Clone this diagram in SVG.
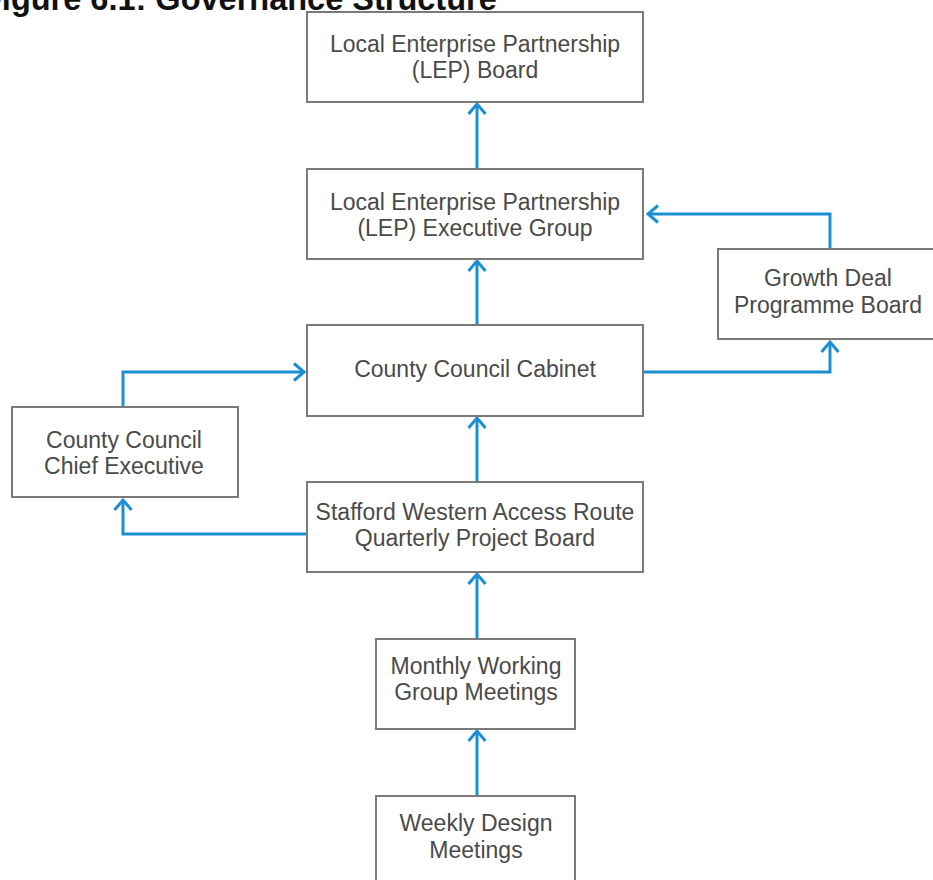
<svg xmlns="http://www.w3.org/2000/svg" width="933" height="880" viewBox="0 0 933 880">
<style>
.box{fill:#ffffff;stroke:#7a7a7a;stroke-width:2}
.t{font-family:"Liberation Sans",Arial,sans-serif;font-size:23px;fill:#4a4a4a;text-anchor:middle}
.c{fill:none;stroke:#1b8fd2;stroke-width:3}
.title{font-family:"Liberation Sans",Arial,sans-serif;font-size:32.5px;font-weight:bold;fill:#111}
</style>
<defs>
<marker id="ah" viewBox="0 0 20 20" refX="14" refY="10" markerWidth="20" markerHeight="20" markerUnits="userSpaceOnUse" orient="auto">
<path d="M4,1.5 L14,10 L4,18.5" fill="none" stroke="#1b8fd2" stroke-width="3"/>
</marker>
</defs>
<rect width="933" height="880" fill="#ffffff"/>
<text class="title" x="-18" y="10">Figure 6.1: Governance Structure</text>
<g id="connectors">
<path class="c" d="M477,169 V104" marker-end="url(#ah)"/>
<path class="c" d="M477,325 V261" marker-end="url(#ah)"/>
<path class="c" d="M477,482 V418" marker-end="url(#ah)"/>
<path class="c" d="M477,639 V574" marker-end="url(#ah)"/>
<path class="c" d="M477,796 V731" marker-end="url(#ah)"/>
<path class="c" d="M830,249 V214 H648" marker-end="url(#ah)"/>
<path class="c" d="M644,372 H830 V342" marker-end="url(#ah)"/>
<path class="c" d="M123,407 V372 H304" marker-end="url(#ah)"/>
<path class="c" d="M307,534 H123 V500" marker-end="url(#ah)"/>
</g>
<g id="lep-board">
<rect class="box" x="307" y="12" width="336" height="90"/>
<text class="t" x="475" y="52">Local Enterprise Partnership</text>
<text class="t" x="475" y="78">(LEP) Board</text>
</g>
<g id="lep-exec">
<rect class="box" x="307" y="169" width="336" height="90"/>
<text class="t" x="475" y="210">Local Enterprise Partnership</text>
<text class="t" x="475" y="236">(LEP) Executive Group</text>
</g>
<g id="growth-deal">
<rect class="box" x="718" y="249" width="222" height="90"/>
<text class="t" x="828" y="286">Growth Deal</text>
<text class="t" x="828" y="313">Programme Board</text>
</g>
<g id="cabinet">
<rect class="box" x="307" y="325" width="336" height="91"/>
<text class="t" x="475" y="377">County Council Cabinet</text>
</g>
<g id="chief-exec">
<rect class="box" x="12" y="407" width="226" height="90"/>
<text class="t" x="124" y="448">County Council</text>
<text class="t" x="124" y="474">Chief Executive</text>
</g>
<g id="stafford">
<rect class="box" x="307" y="482" width="336" height="90"/>
<text class="t" x="475" y="520">Stafford Western Access Route</text>
<text class="t" x="475" y="546">Quarterly Project Board</text>
</g>
<g id="monthly">
<rect class="box" x="376" y="639" width="199" height="90"/>
<text class="t" x="476" y="674">Monthly Working</text>
<text class="t" x="476" y="700">Group Meetings</text>
</g>
<g id="weekly">
<rect class="box" x="376" y="796" width="199" height="100"/>
<text class="t" x="476" y="831">Weekly Design</text>
<text class="t" x="476" y="858">Meetings</text>
</g>
</svg>
